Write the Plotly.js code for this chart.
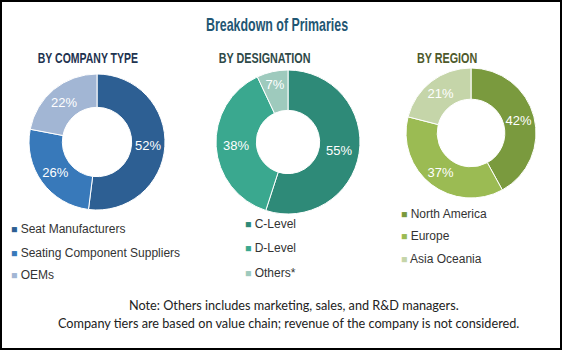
<!DOCTYPE html>
<html>
<head>
<meta charset="utf-8">
<script src="https://cdn.plot.ly/plotly-3.0.1.min.js"></script>
<style>
html,body{margin:0;padding:0;background:#fff;}
#chart{width:562px;height:350px;box-sizing:border-box;border:2px solid #000;}
</style>
</head>
<body>
<div id="chart"></div>
<script>
// ---- data ----
const companyLabels = ["Seat Manufacturers", "Seating Component Suppliers", "OEMs"];
const companyValues = [52, 26, 22];
const designationLabels = ["C-Level", "D-Level", "Others*"];
const designationValues = [55, 38, 7];
const regionLabels = ["North America", "Europe", "Asia Oceania"];
const regionValues = [42, 37, 21];

// ---- styles ----
const companyColors = ["#2D5F93", "#3879BA", "#A2B6D4"];
const designationColors = ["#2E8A78", "#3AA88F", "#9ECABD"];
const regionColors = ["#7A9A3E", "#9BBB53", "#C5D5A9"];

const W = 558, H = 346;
function px(x){return x / W;}
function py(y){return 1 - y / H;}

function pie(labels, values, colors, cx, cy, r, hole){
  return {
    type: "pie",
    labels: labels,
    values: values,
    sort: false,
    direction: "clockwise",
    rotation: 0,
    hole: hole,
    domain: {x: [px(cx - r), px(cx + r)], y: [py(cy + r), py(cy - r)]},
    marker: {colors: colors, line: {color: "#ffffff", width: 1}},
    texttemplate: "%{value}%",
    textposition: "inside",
    insidetextorientation: "horizontal",
    textfont: {family: "Liberation Sans, Arial, sans-serif", size: 13, color: "#ffffff"},
    hoverinfo: "label+percent",
    showlegend: false
  };
}

const data = [
  pie(companyLabels, companyValues, companyColors, 95, 140, 68, 0.51),
  pie(designationLabels, designationValues, designationColors, 286, 140, 72, 0.44),
  pie(regionLabels, regionValues, regionColors, 469, 131, 65, 0.52)
];

const annotations = [];
const squeeze = {};
function txt(text, x, y, font, xanchor, sx){
  if (sx) squeeze[annotations.length] = sx;
  annotations.push({text: text, x: px(x), y: py(y), xref: "paper", yref: "paper",
    xanchor: xanchor || "center", yanchor: "middle", showarrow: false, font: font});
}
const bold = "Liberation Sans, Arial, sans-serif";
txt("<b>Breakdown of Primaries</b>", 275, 23, {family: bold, size: 18, color: "#1F5673"}, null, 0.69);
txt("<b>BY COMPANY TYPE</b>", 86, 56, {family: bold, size: 14, color: "#1E3350"}, null, 0.75);
txt("<b>BY DESIGNATION</b>", 262, 56, {family: bold, size: 14, color: "#2F4A48"}, null, 0.77);
txt("<b>BY REGION</b>", 445, 56, {family: bold, size: 14, color: "#4E5A2C"}, null, 0.77);

function legend(labels, colors, x, ys){
  labels.forEach(function(l, i){
    txt('<span style="color:' + colors[i] + ';font-size:10.5px">■</span> ' + l, x, ys[i],
      {family: "Liberation Sans, Arial, sans-serif", size: 12, color: "#333333"}, "left");
  });
}
legend(companyLabels, companyColors, 7, [227, 251, 273]);
legend(designationLabels, designationColors, 241, [222, 246, 271]);
legend(regionLabels, regionColors, 397, [212, 234, 257]);

const noteFont = {family: "Lato, Liberation Sans, sans-serif", size: 12.7, color: "#222222"};
txt("Note: Others includes marketing, sales, and R&amp;D managers.", 292, 303, noteFont);
txt("Company tiers are based on value chain; revenue of the company is not considered.", 286, 321, noteFont);

const layout = {
  width: W, height: H,
  margin: {l: 0, r: 0, t: 0, b: 0},
  paper_bgcolor: "#ffffff",
  showlegend: false,
  annotations: annotations
};
Plotly.newPlot("chart", data, layout, {displayModeBar: false, staticPlot: true}).then(function(gd){
  Object.keys(squeeze).forEach(function(i){
    const t = gd.querySelector('g.annotation[data-index="' + i + '"] text');
    if (t){
      t.style.transformBox = "fill-box";
      t.style.transformOrigin = "center";
      t.style.transform = "scaleX(" + squeeze[i] + ")";
    }
  });
});
</script>
</body>
</html>
